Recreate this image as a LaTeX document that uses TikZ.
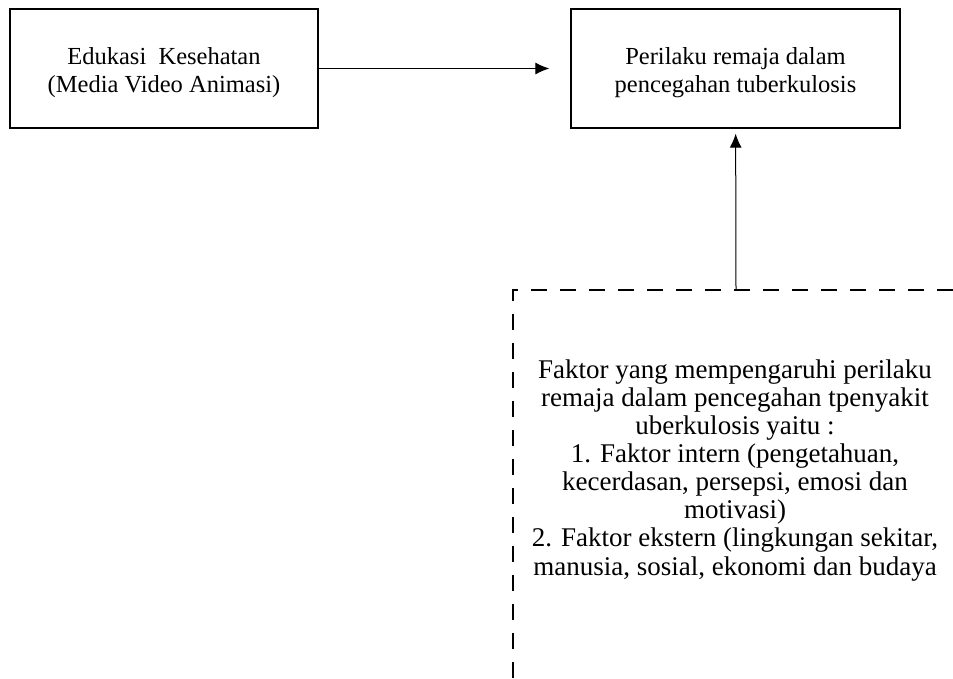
\documentclass[tikz,border=0pt]{standalone}
\usepackage{fontspec}
\setmainfont{Liberation Serif}
\usetikzlibrary{arrows.meta}

\begin{document}
\begin{tikzpicture}[x = 1pt, y = -1pt, >={Latex[length = 14pt, width = 12pt]}]
    \path[use as bounding box, clip] (0,0) rectangle (953,678);
    \begin{scope}[every node/.style={draw, rectangle, line width = 1.3pt, minimum height = 119pt, align = center, text height = 53pt, text depth = 5pt, font = \fontsize{24.5}{28}\selectfont}]
    \node (edukasi) at (164,68.5) [minimum width = 308pt] {Edukasi\ \ Kesehatan\\(Media Video Animasi)};
    \node (perilaku) at (735.5,68.5) [minimum width = 329pt] {Perilaku remaja dalam\\pencegahan tuberkulosis};
    \end{scope}
    \coordinate (dashtop) at (736,290);
    \draw[dash pattern = on 16pt off 13pt, line width = 1.3pt] (953,290) -| (513,690);
    \node (faktor) at (735,575) [anchor = base, align = center, font = \fontsize{27}{28.1}\selectfont] {Faktor yang mempengaruhi perilaku\\remaja dalam pencegahan tpenyakit\\uberkulosis yaitu :\\1. Faktor intern (pengetahuan,\\kecerdasan, persepsi, emosi dan\\motivasi)\\2. Faktor ekstern (lingkungan sekitar,\\manusia, sosial, ekonomi dan budaya};
    \begin{scope}[->, line width = 1pt]
      \draw[shorten > = 21pt] (edukasi) -- (perilaku);
      \draw[shorten > = 5pt] (dashtop) -- (perilaku);
    \end{scope}
\end{tikzpicture}
\end{document}
